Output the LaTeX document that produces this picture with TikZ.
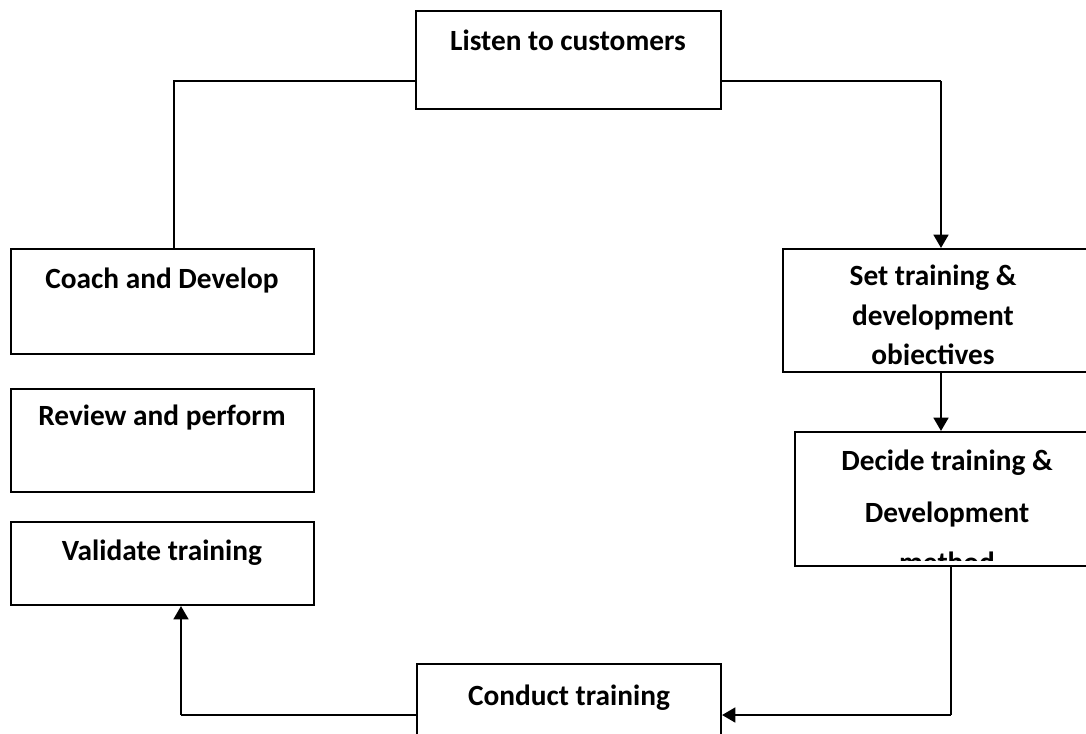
\documentclass[tikz,border=0pt]{standalone}
\usepackage{fontspec}
\setmainfont{Carlito}
\usetikzlibrary{fit,arrows.meta}
\begin{document}
\begin{tikzpicture}[x=0.75pt,y=-0.75pt,
  box/.style={draw,line width=1.5pt,inner sep=0pt,rectangle},
  lbl/.style={anchor=base,inner sep=0pt,font=\fontsize{22}{26}\selectfont\bfseries},
  link/.style={line width=1.5pt},
  arr/.style={line width=2pt,-{Triangle[length=10pt,width=11pt]}}]
\path[use as bounding box] (0,0) rectangle (1086,733);
\clip (0,0) rectangle (1086,733);
% boxes
\node[box,fit={(416,11) (721,109)}] (listen) {};
\node[box,fit={(11,249) (314,354)}] (coach) {};
\node[box,fit={(11,389) (314,492)}] (review) {};
\node[box,fit={(11,522) (314,605)}] (validate) {};
\node[box,fit={(783,249) (1095,372)}] (set) {};
\node[box,fit={(795,432) (1100,566)}] (decide) {};
\node[box,fit={(417,664) (721,745)}] (conduct) {};
% labels
\node[lbl] (tlisten) at (568,50) {Listen to customers};
\node[lbl] (tcoach) at (162,288) {Coach and Develop};
\node[lbl] (treview) at (162,425) {Review and perform};
\node[lbl] (tvalidate) at (162,560) {Validate training};
\node[lbl] (tconduct) at (569,705) {Conduct training};
\begin{scope}
\clip (783,249) rectangle (1086,364);
\node[lbl] (tset1) at (933,285) {Set training \&};
\node[lbl] (tset2) at (933,325) {development};
\node[lbl] (tset3) at (933,364) {objectives};
\end{scope}
\begin{scope}
\clip (795,432) rectangle (1086,560);
\node[lbl] (tdec1) at (947,470) {Decide training \&};
\node[lbl] (tdec2) at (947,522) {Development};
\node[lbl] (tdec3) at (947,572) {method};
\end{scope}
% connectors
\draw[link] (listen.west |- 0,81) -| (coach.north -| 174,0);
\draw[link] (listen.east |- 0,81) -- (941,81);
\draw[arr] (941,81) -- (set.north -| 941,0);
\draw[arr] (set.south -| 941,0) -- (decide.north -| 941,0);
\draw[link] (decide.south -| 951,0) -- (951,715);
\draw[arr] (951,715) -- (conduct.east |- 0,715);
\draw[link] (conduct.west |- 0,715) -- (181,715);
\draw[arr] (181,715) -- (validate.south -| 181,0);
\end{tikzpicture}
\end{document}
